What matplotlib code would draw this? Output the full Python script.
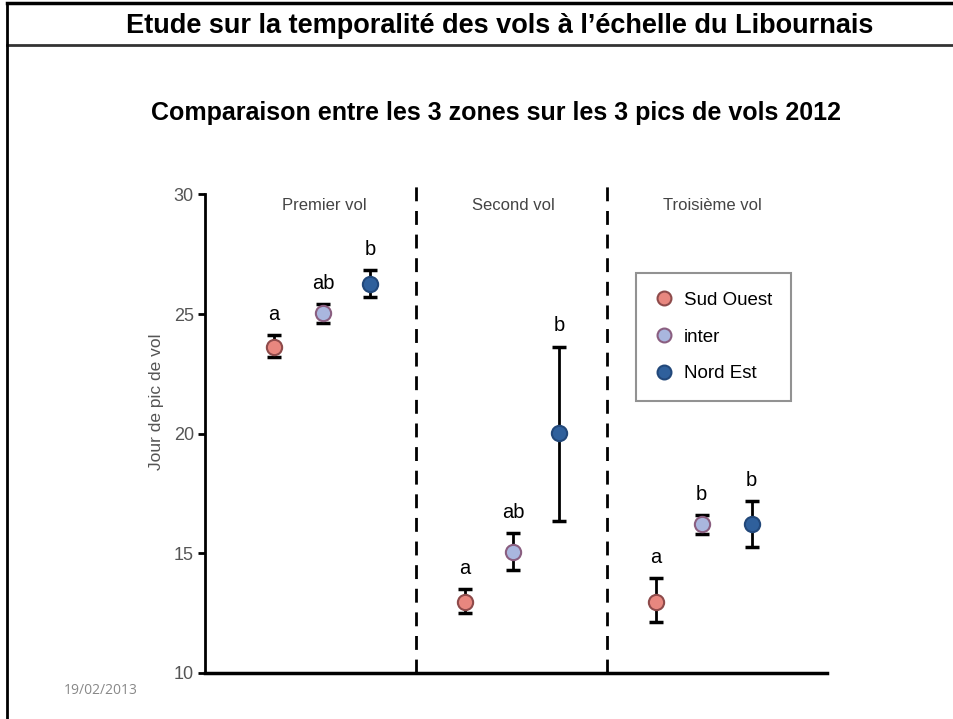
import numpy as np
import matplotlib.pyplot as plt
from matplotlib.lines import Line2D

plt.rcParams['font.family'] = ['Liberation Sans', 'DejaVu Sans']

# --- donnees ---
zones = ['Sud Ouest', 'inter', 'Nord Est']
vols = ['Premier vol', 'Second vol', 'Troisième vol']
# position horizontale de chaque point (unites de l'axe 0..3)
x_pos = [[0.333, 0.569, 0.796],
         [1.253, 1.485, 1.707],
         [2.174, 2.396, 2.637]]
moyennes = [[23.63, 25.05, 26.27],
            [12.97, 15.06, 20.02],
            [12.97, 16.22, 16.22]]
err_haut = [[24.13, 25.43, 26.85],
            [13.50, 15.84, 23.64],
            [13.95, 16.60, 17.16]]
err_bas = [[23.20, 24.63, 25.72],
           [12.51, 14.30, 16.36],
           [12.13, 15.80, 15.27]]
lettres = [['a', 'ab', 'b'],
           ['a', 'ab', 'b'],
           ['a', 'b', 'b']]
separations = [1.018, 1.94]
centres_vols = [0.575, 1.485, 2.445]

couleurs = ['#E8877F', '#A9B6DE', '#2F609C']
bords = ['#8E4B4B', '#8A5E80', '#22487A']

fig = plt.figure(figsize=(9.54, 7.19), dpi=100)
ax = fig.add_axes([0.2149, 0.0644, 0.652, 0.6651])

for v in range(3):
    for z in range(3):
        m = moyennes[v][z]
        yerr = [[m - err_bas[v][z]], [err_haut[v][z] - m]]
        ax.errorbar(x_pos[v][z], m, yerr=yerr, fmt='none', ecolor='black',
                    elinewidth=2, capsize=5, capthick=2.5, zorder=2)
        ax.plot(x_pos[v][z], m, 'o', ms=11, mfc=couleurs[z], mec=bords[z],
                mew=1.5, zorder=3)
        ax.annotate(lettres[v][z], (x_pos[v][z], err_haut[v][z]),
                    xytext=(0, 8), textcoords='offset points', ha='center',
                    va='bottom', fontsize=14.5, color='black')
    ax.text(centres_vols[v], 29.55, vols[v], ha='center',
            va='center', fontsize=12, color='#444444')

for s in separations:
    ax.axvline(s, ymin=0, ymax=1.02, color='black', lw=2,
               dashes=(5, 3.5), clip_on=False)

ax.set_xlim(0, 3)
ax.set_ylim(10, 30)
ax.set_yticks([10, 15, 20, 25, 30])
ax.set_xticks([])
for sp in ['top', 'right']:
    ax.spines[sp].set_visible(False)
ax.spines['left'].set_linewidth(2)
ax.spines['bottom'].set_linewidth(2.5)
ax.tick_params(axis='y', direction='out', length=5, width=2, labelsize=13,
               labelcolor='#555555', pad=3)
ax.set_ylabel('Jour de pic de vol', fontsize=12.5, color='#555555')
ax.yaxis.set_label_coords(-0.066, 0.566)

# legende
handles = [Line2D([], [], ls='', marker='o', ms=10, mfc=couleurs[i],
                  mec=bords[i], mew=1.5) for i in range(3)]
leg = ax.legend(handles, zones, loc='upper left', borderaxespad=0,
                bbox_to_anchor=(0.693, 0.836), fontsize=13.5, frameon=True,
                fancybox=False, edgecolor='#777777', borderpad=1.0,
                labelspacing=1.05, handletextpad=0.55, handlelength=1.0)
leg.get_frame().set_linewidth(1.5)

# cadre de la diapositive
fig.add_artist(Line2D([7 / 954, 1], [1 - 3 / 719, 1 - 3 / 719],
                      color='black', lw=2.5, transform=fig.transFigure))
fig.add_artist(Line2D([7 / 954, 1], [1 - 45 / 719, 1 - 45 / 719],
                      color='#333333', lw=2, transform=fig.transFigure))
fig.add_artist(Line2D([7 / 954, 7 / 954], [0, 1 - 3 / 719],
                      color='black', lw=2, transform=fig.transFigure))

fig.text(500 / 954, 1 - 26 / 719,
         'Etude sur la temporalité des vols à l’échelle du Libournais',
         ha='center', va='center', fontsize=19.5, fontweight='bold')
fig.text(496 / 954, 1 - 113 / 719,
         'Comparaison entre les 3 zones sur les 3 pics de vols 2012',
         ha='center', va='center', fontsize=18, fontweight='bold')
fig.text(101 / 954, 1 - 690 / 719, '19/02/2013', ha='center', va='center',
         fontsize=10, color='#888888', family=['Open Sans', 'DejaVu Sans'])

fig.savefig('out.png', dpi=100)
